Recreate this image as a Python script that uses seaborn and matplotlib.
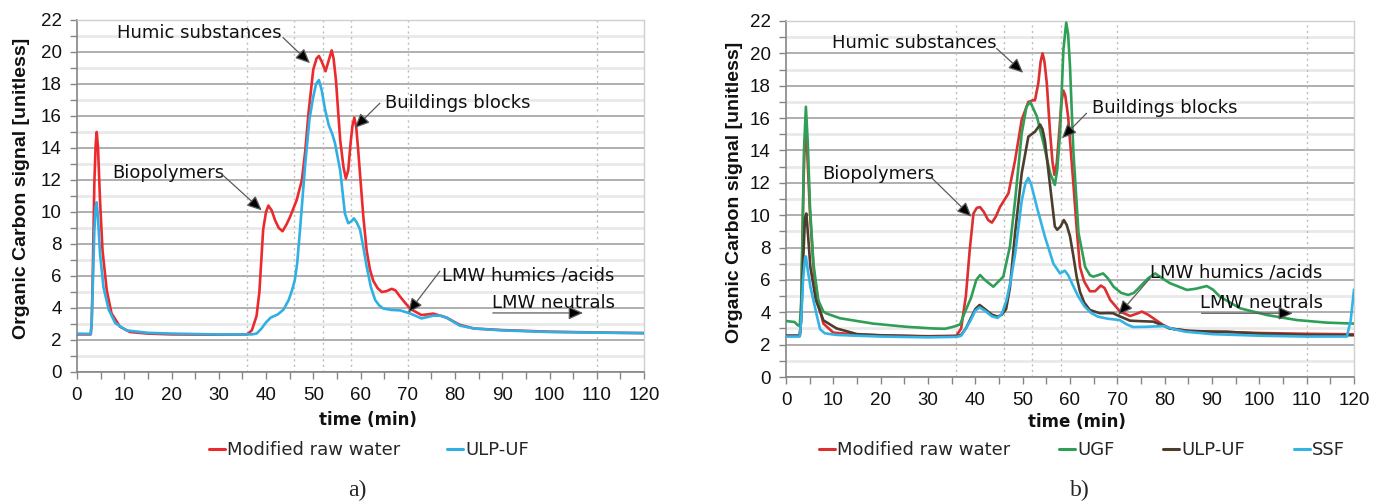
import numpy as np
import pandas as pd
import matplotlib
matplotlib.use("Agg")
import matplotlib.pyplot as plt
from matplotlib.lines import Line2D
from matplotlib.ticker import MultipleLocator
import seaborn as sns

# ---------------- data : (time min, signal) ----------------
# panel a)
a_raw = [(0, 2.35), (2.9, 2.35), (3.1, 3.0), (3.3, 5.5), (3.67, 11.8), (3.95, 14.2), (4.17, 15.0), (4.45, 14.0),
         (4.87, 10.75), (5.4, 7.6), (6.3, 5.1), (7.3, 3.67), (9.1, 2.83), (11.2, 2.5), (15, 2.4), (20, 2.35),
         (30, 2.33), (36, 2.35), (37, 2.6), (38, 3.5), (38.6, 5.0), (39.4, 8.9), (40, 10.0), (40.5, 10.4),
         (41.2, 10.1), (41.9, 9.5), (42.7, 9.0), (43.5, 8.8), (44.3, 9.2), (45.1, 9.7), (46.5, 10.75),
         (47.6, 12.0), (48.3, 13.8), (49.0, 16.2), (50.0, 18.9), (50.7, 19.6), (51.2, 19.75), (51.8, 19.4),
         (52.6, 18.8), (53.3, 19.5), (53.9, 20.1), (54.3, 19.6), (54.8, 18.25), (55.7, 14.5), (56.4, 12.8),
         (56.9, 12.1), (57.4, 12.6), (57.9, 14.3), (58.3, 15.4), (58.7, 15.9), (59.1, 15.3), (59.5, 13.9),
         (60.6, 9.7), (61.3, 7.6), (62.0, 6.4), (62.7, 5.7), (63.6, 5.25), (64.5, 5.0), (65.5, 5.05),
         (66.6, 5.2), (67.4, 5.1), (68.4, 4.7), (70.5, 3.95), (72.9, 3.56), (74.2, 3.6), (75.4, 3.65),
         (78.2, 3.4), (81, 2.95), (84, 2.72), (90, 2.62), (100, 2.52), (110, 2.47), (120, 2.43)]
a_ulp = [(0, 2.4), (2.9, 2.38), (3.1, 3.0), (3.3, 5.0), (3.67, 8.8), (3.95, 10.3), (4.17, 10.6), (4.45, 9.6),
         (4.87, 7.4), (5.6, 5.3), (6.7, 3.9), (8.1, 3.05), (10.5, 2.6), (15, 2.45), (20, 2.4), (30, 2.35),
         (37, 2.35), (38, 2.4), (39, 2.7), (40, 3.1), (41, 3.4), (42.5, 3.6), (43.7, 3.9), (44.8, 4.5),
         (45.5, 5.1), (46.1, 5.75), (46.6, 6.8), (47.2, 8.9), (48.3, 13.0), (49.2, 15.8), (50.0, 17.2),
         (50.6, 18.0), (51.2, 18.25), (51.8, 17.6), (52.5, 16.4), (53.3, 15.4), (54.0, 14.9), (54.6, 14.3),
         (55.7, 12.6), (56.7, 9.9), (57.4, 9.3), (58.0, 9.4), (58.6, 9.6), (59.2, 9.35), (59.9, 8.9),
         (60.6, 7.8), (61.3, 6.6), (62.2, 5.3), (63.1, 4.5), (64, 4.15), (64.8, 3.97), (66.5, 3.88),
         (68.4, 3.85), (70.5, 3.66), (72.9, 3.35), (75.4, 3.52), (77, 3.52), (78.2, 3.4), (81, 2.9),
         (84, 2.72), (90, 2.6), (100, 2.5), (110, 2.46), (120, 2.43)]

# panel b)
b_raw = [(0, 2.55), (2.9, 2.55), (3.1, 3.2), (3.3, 5.5), (3.7, 12), (3.95, 14.5), (4.2, 15.1), (4.5, 13.8),
         (5.07, 10.1), (5.9, 6.4), (7.0, 4.35), (7.9, 3.3), (10.0, 2.74), (15, 2.62), (20, 2.58), (30, 2.52),
         (36, 2.55), (37, 3.0), (38, 5.0), (38.8, 7.8), (39.6, 10.1), (40.3, 10.45), (41.0, 10.5),
         (41.8, 10.2), (42.7, 9.7), (43.5, 9.54), (44.3, 9.9), (45.2, 10.5), (47.0, 11.35), (48.4, 13.4),
         (49.8, 15.9), (51.2, 17.0), (52.2, 17.1), (52.6, 17.1), (53.3, 18.15), (53.8, 19.5), (54.2, 20.0),
         (54.6, 19.5), (55.1, 18.15), (55.8, 15.06), (56.3, 13.3), (56.7, 12.5), (57.2, 13.2), (57.7, 15.06),
         (58.2, 17.0), (58.6, 17.7), (59.0, 17.4), (59.6, 16.1), (60.7, 12.0), (61.4, 9.2), (62.1, 6.8),
         (63.0, 5.9), (64.2, 5.3), (65.3, 5.3), (66.5, 5.65), (67.3, 5.5), (68.5, 4.76), (70.6, 4.04),
         (72.7, 3.77), (74, 3.9), (75.2, 4.04), (76.5, 3.85), (77.6, 3.63), (79.5, 3.25), (81.1, 3.0),
         (85.4, 2.84), (90.3, 2.8), (100, 2.72), (110, 2.67), (120, 2.64)]
b_ugf = [(0, 3.46), (1.8, 3.4), (2.5, 3.2), (2.9, 3.15), (3.2, 4.5), (3.5, 9), (3.8, 14), (4.2, 16.7),
         (4.6, 14.5), (5.07, 10.5), (5.8, 7.0), (6.8, 4.76), (7.9, 4.04), (8.6, 3.92), (11.4, 3.63),
         (18.4, 3.3), (25.5, 3.1), (31.1, 3.0), (33.6, 2.98), (35.3, 3.1), (36.8, 3.25), (37.5, 3.8),
         (39.1, 4.9), (40.2, 6.0), (41.0, 6.3), (42, 6.0), (43.8, 5.58), (45.9, 6.2), (47.3, 8.05),
         (48.4, 10.9), (49.8, 15.06), (50.8, 16.7), (51.6, 17.0), (53.0, 16.1), (54.4, 14.45), (55.8, 12.6),
         (56.8, 11.87), (57.3, 12.8), (57.9, 15.06), (58.6, 20.2), (59.2, 21.9), (59.6, 21.2), (60.0, 19.2),
         (60.7, 14.0), (61.8, 8.9), (63.2, 6.8), (64.2, 6.3), (64.9, 6.2), (66, 6.3), (67.0, 6.4), (68, 6.1),
         (69.2, 5.58), (70.8, 5.2), (72.3, 5.07), (73.5, 5.2), (74.8, 5.58), (76.5, 6.1), (78.0, 6.4),
         (79.5, 6.1), (81.1, 5.8), (84.7, 5.38), (86.5, 5.45), (88.9, 5.62), (90.2, 5.4), (91.7, 4.96),
         (95.9, 4.25), (101.6, 3.83), (107.9, 3.52), (114.2, 3.36), (120, 3.3)]
b_ulp = [(0, 2.55), (2.9, 2.55), (3.2, 3.5), (3.6, 7), (4.0, 9.8), (4.3, 10.1), (4.7, 8.6), (5.15, 6.8),
         (6.3, 4.76), (7.9, 3.5), (10.7, 3.0), (15, 2.65), (20, 2.57), (30, 2.5), (36, 2.52), (37, 2.6),
         (38, 3.0), (39, 3.6), (40, 4.2), (40.9, 4.45), (42, 4.2), (43.5, 3.85), (44.7, 3.73), (45.6, 3.85),
         (46.5, 4.2), (47.3, 5.5), (48.4, 8.9), (49.8, 12.6), (51.2, 14.85), (52.6, 15.16), (53.2, 15.4),
         (53.7, 15.6), (54.2, 15.3), (54.7, 14.6), (55.8, 11.8), (56.8, 9.3), (57.3, 9.1), (58.0, 9.3),
         (58.7, 9.7), (59.3, 9.4), (60.0, 8.7), (60.7, 7.5), (61.4, 6.2), (62.1, 5.27), (63, 4.6),
         (64.2, 4.14), (66.3, 3.94), (68, 3.95), (69.1, 3.94), (70.5, 3.75), (72.7, 3.48), (75, 3.45),
         (77.6, 3.42), (79.5, 3.2), (81.1, 3.0), (85, 2.85), (90.3, 2.8), (93, 2.8), (100, 2.68),
         (110, 2.6), (120, 2.58)]
b_ssf = [(0, 2.5), (2.9, 2.5), (3.2, 3.5), (3.6, 6.0), (4.0, 7.3), (4.2, 7.45), (4.6, 6.6), (5.15, 5.58),
         (6.4, 3.94), (7.2, 2.95), (8.2, 2.7), (10.7, 2.6), (15, 2.55), (20, 2.5), (30, 2.45), (36, 2.48),
         (37, 2.55), (38, 3.0), (39, 3.5), (40, 4.1), (40.9, 4.3), (42, 4.1), (43.5, 3.75), (44.7, 3.65),
         (45.6, 3.9), (46.6, 4.76), (47.5, 6.0), (48.4, 7.6), (49.8, 10.9), (50.6, 12.0), (51.2, 12.3),
         (51.8, 11.9), (53.0, 10.5), (54.7, 8.67), (56.5, 7.0), (57.9, 6.4), (58.9, 6.57), (59.6, 6.3),
         (60.4, 5.8), (61.7, 5.0), (63.1, 4.35), (64.5, 3.95), (65.9, 3.73), (68, 3.6), (70.5, 3.52),
         (72, 3.25), (73.3, 3.09), (76, 3.1), (79.8, 3.15), (82, 2.95), (84.4, 2.8), (90, 2.65), (100, 2.55),
         (110, 2.5), (118.5, 2.5), (119.3, 3.5), (120, 5.4)]

a_series = ["Modified raw water", "ULP-UF"]
b_series = ["Modified raw water", "UGF", "ULP-UF", "SSF"]
fraction_bounds = [36, 46, 52, 58, 70, 110]

# annotation labels: (text, text x, text y, arrow tail, arrow head)
a_notes = [("Humic substances", 8.5, 21.2, (43.6, 20.9), (49.3, 19.3)),
           ("Biopolymers", 7.4, 12.45, (30.5, 12.4), (39.1, 10.1)),
           ("Buildings blocks", 65.2, 16.8, (64.1, 16.8), (58.8, 15.25)),
           ("LMW humics /acids", 77.2, 6.06, (76.8, 6.3), (70.1, 3.7)),
           ("LMW neutrals", 87.8, 4.31, (88.0, 3.69), (107.1, 3.69))]
b_notes = [("Humic substances", 9.66, 20.64, (44.5, 20.3), (50.1, 18.8)),
           ("Biopolymers", 7.6, 12.55, (30.8, 12.3), (39.2, 9.9)),
           ("Buildings blocks", 64.6, 16.63, (63.5, 16.3), (58.3, 14.75)),
           ("LMW humics /acids", 76.9, 6.43, (76.9, 6.1), (70.2, 3.83)),
           ("LMW neutrals", 87.5, 4.57, (87.8, 3.94), (107.1, 3.94))]

# ---------------- styling ----------------
sns.set_theme(style="white")
plt.rcParams["font.family"] = ["DejaVu Sans"]
ARIAL = ["Liberation Sans", "DejaVu Sans"]

a_colors = {"Modified raw water": "#ec2a2e", "ULP-UF": "#2fb0e4"}
b_colors = {"Modified raw water": "#dc2f2f", "UGF": "#2f9e57", "ULP-UF": "#4d3d2c", "SSF": "#33b3e6"}


def long_frame(pairs_by_series):
    frames = []
    for name, pairs in pairs_by_series:
        arr = np.array(pairs, dtype=float)
        frames.append(pd.DataFrame({"time": arr[:, 0], "signal": arr[:, 1], "series": name}))
    return pd.concat(frames, ignore_index=True)


df_a = long_frame([(a_series[0], a_raw), (a_series[1], a_ulp)])
df_b = long_frame([(b_series[0], b_raw), (b_series[1], b_ugf), (b_series[2], b_ulp), (b_series[3], b_ssf)])

fig = plt.figure(figsize=(13.84, 5.01), dpi=100)
axA = fig.add_axes([77 / 1384, 1 - 372 / 501, 567 / 1384, 352 / 501])
axB = fig.add_axes([786 / 1384, 1 - 377 / 501, 568 / 1384, 356 / 501])


def style_axes(ax):
    ax.set_xlim(0, 120)
    ax.set_ylim(0, 22)
    ax.xaxis.set_major_locator(MultipleLocator(10))
    ax.xaxis.set_minor_locator(MultipleLocator(5))
    ax.yaxis.set_major_locator(MultipleLocator(2))
    ax.yaxis.set_minor_locator(MultipleLocator(1))
    ax.grid(False)
    ax.grid(which="minor", axis="y", color="#e9e9e9", lw=2.0)
    ax.grid(which="major", axis="y", color="#a9a9a9", lw=1.3)
    ax.set_axisbelow(True)
    for xb in fraction_bounds:
        ax.axvline(xb, color="#bdbdbd", lw=1.0, ls=(0, (1.5, 2.5)), zorder=0.8)
    for s in ["top", "right"]:
        ax.spines[s].set_color("#cfcfcf")
        ax.spines[s].set_linewidth(1.0)
    for s in ["left", "bottom"]:
        ax.spines[s].set_color("#858585")
        ax.spines[s].set_linewidth(1.2)
    ax.tick_params(which="both", bottom=True, left=True, direction="out", length=5, width=1.0,
                   color="#858585")
    ax.tick_params(which="major", labelsize=13.5, pad=6, labelcolor="#111111")
    for lab in ax.get_xticklabels() + ax.get_yticklabels():
        lab.set_family(ARIAL)


def annotate(ax, notes):
    for text, tx, ty, tail, head in notes:
        ax.text(tx, ty, text, fontsize=13, ha="left", va="center", color="#111111", zorder=6)
        ax.annotate("", xy=head, xytext=tail,
                    arrowprops=dict(arrowstyle="-|>,head_length=0.55,head_width=0.25", lw=0.9,
                                    ec="#5a5a5a", fc="black", shrinkA=0, shrinkB=0,
                                    mutation_scale=16), zorder=6)


for ax, df, colors, series, notes in [(axA, df_a, a_colors, a_series, a_notes),
                                      (axB, df_b, b_colors, b_series, b_notes)]:
    style_axes(ax)
    sns.lineplot(data=df, x="time", y="signal", hue="series", hue_order=series, palette=colors,
                 estimator=None, sort=True, lw=1.9, legend=False, ax=ax, zorder=3)
    annotate(ax, notes)
    ax.set_xlabel("time (min)", fontsize=12, fontweight="bold", color="#111111")
    ax.set_ylabel("Organic Carbon signal [unitless]", fontsize=14, fontweight="bold", color="#111111",
                  family=ARIAL)
    handles = [Line2D([0], [0], color=colors[s], lw=2.2) for s in series]
    leg = ax.legend(handles, series, loc="center", ncol=len(series), frameon=False, fontsize=13,
                    handlelength=0.9, handletextpad=0.1,
                    columnspacing=2.6 if len(series) == 2 else 2.7)
    leg.set_zorder(10)

axA.xaxis.set_label_coords(0.513, -0.111)
axB.xaxis.set_label_coords(0.513, -0.101)
axA.yaxis.set_label_coords(-0.083, 0.523)
axB.yaxis.set_label_coords(-0.076, 0.52)
axA.get_legend().set_bbox_to_anchor((0.515, -0.222), transform=axA.transAxes)
axB.get_legend().set_bbox_to_anchor((0.521, -0.205), transform=axB.transAxes)

fig.text(357 / 1384, 1 - 490 / 501, "a)", fontsize=17, family=["Liberation Serif", "DejaVu Serif"],
         ha="center", va="center")
fig.text(1080 / 1384, 1 - 490 / 501, "b)", fontsize=17, family=["Liberation Serif", "DejaVu Serif"],
         ha="center", va="center")

fig.savefig("out.png", dpi=100, facecolor="white")
